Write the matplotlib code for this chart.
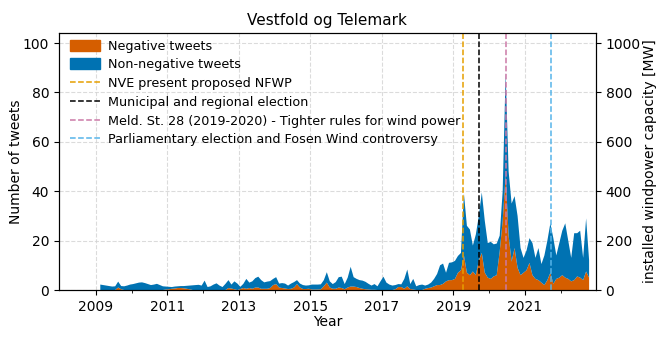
import numpy as np
import matplotlib.pyplot as plt
from matplotlib.patches import Patch
from matplotlib.lines import Line2D

# monthly counts, Feb 2009 - Oct 2022 (one list per year)
total_tweets = {
    2009: [2.2, 2.0, 1.8, 1.6, 1.4, 1.5, 3.4, 1.6, 1.5, 1.8, 2.2],
    2010: [2.4, 2.7, 3.0, 3.1, 2.8, 2.4, 2.0, 2.2, 2.5, 2.0, 1.5, 1.4],
    2011: [1.3, 1.2, 1.4, 1.5, 1.6, 1.6, 1.7, 1.8, 1.9, 2.0, 2.1, 1.8],
    2012: [3.8, 1.2, 1.5, 2.2, 2.7, 1.8, 1.2, 2.5, 4.0, 2.2, 3.5, 2.6],
    2013: [1.3, 2.5, 4.5, 3.0, 3.5, 4.8, 5.4, 4.0, 3.1, 3.4, 3.6, 4.5],
    2014: [5.2, 2.6, 2.8, 2.6, 1.8, 2.6, 3.2, 4.0, 2.6, 2.0, 1.8, 1.9],
    2015: [2.2, 2.2, 2.2, 2.3, 4.0, 7.2, 3.5, 2.4, 3.2, 5.2, 5.4, 2.4],
    2016: [5.0, 9.4, 5.2, 4.5, 4.0, 3.8, 3.3, 2.5, 1.8, 2.4, 1.5, 3.5],
    2017: [5.4, 3.0, 2.2, 1.8, 2.0, 2.4, 2.3, 4.5, 8.3, 2.4, 4.5, 1.5],
    2018: [2.0, 2.2, 1.8, 2.2, 3.0, 4.5, 6.5, 10.0, 10.7, 7.0, 11.0, 11.2],
    2019: [11.8, 13.8, 15.0, 39.0, 26.0, 24.5, 18.0, 22.5, 30.0, 39.5, 28.0, 19.0],
    2020: [19.5, 18.5, 18.8, 22.0, 40.0, 88.0, 48.0, 35.0, 38.0, 30.0, 17.0, 13.0],
    2021: [16.0, 21.0, 19.0, 13.0, 17.0, 10.5, 14.0, 20.0, 27.0, 21.0, 14.0, 19.0],
    2022: [24.0, 27.0, 20.0, 13.0, 23.0, 23.0, 24.0, 13.0, 29.0, 12.0],
}
negative_tweets = {
    2009: [0, 0, 0, 0, 0, 0, 1.0, 0.3, 0, 0, 0],
    2010: [0, 0, 0, 0, 0, 0, 0, 0, 0, 0, 0, 0.2],
    2011: [0.3, 0.5, 0.6, 0.8, 0.8, 0.7, 0.5, 0.3, 0, 0, 0, 0],
    2012: [0, 0, 0, 0, 0, 0, 0, 0, 0.8, 0.6, 0.3, 0],
    2013: [0.4, 0.8, 0.5, 0.8, 0.5, 1.0, 1.0, 0.5, 0.5, 0.5, 0.8, 2.0],
    2014: [2.4, 1.0, 0.8, 0.6, 0.4, 0.5, 1.0, 2.4, 1.0, 0.4, 0.4, 0.5],
    2015: [0.2, 0.2, 0.2, 0.3, 1.5, 3.0, 1.0, 0.5, 0.5, 1.0, 0.8, 0.3],
    2016: [1.0, 1.4, 1.4, 1.2, 0.8, 0.5, 0.3, 0.2, 0.1, 0.1, 0, 0],
    2017: [0, 0, 0, 0, 0.3, 1.2, 1.2, 0.5, 1.5, 0.4, 0.2, 0],
    2018: [0, 0, 0.5, 0.8, 1.0, 1.5, 2.0, 2.0, 2.5, 3.5, 4.0, 4.0],
    2019: [4.5, 7.0, 8.0, 14.0, 7.0, 6.0, 7.5, 6.0, 12.0, 15.0, 7.0, 5.0],
    2020: [4.5, 5.5, 6.0, 15.5, 28.0, 46.5, 22.0, 11.5, 17.0, 9.0, 6.0, 7.0],
    2021: [8.0, 11.0, 6.0, 4.5, 4.0, 3.0, 2.0, 4.0, 7.0, 2.5, 4.5, 5.0],
    2022: [6.0, 5.0, 4.5, 3.5, 4.0, 5.5, 5.0, 4.0, 7.5, 5.0],
}

event_dates = [2019.27, 2019.70, 2020.47, 2021.72]
event_labels = [
    'NVE present proposed NFWP',
    'Municipal and regional election',
    'Meld. St. 28 (2019-2020) - Tighter rules for wind power',
    'Parliamentary election and Fosen Wind controversy',
]
event_colors = ['#E69F00', 'black', '#CC79A7', '#56B4E9']

# decimal year at the middle of each month
x, total, neg = [], [], []
for year in total_tweets:
    first_month = 13 - len(total_tweets[year]) if year == 2009 else 1
    for i, (t, n) in enumerate(zip(total_tweets[year], negative_tweets[year])):
        x.append(year + (first_month + i - 0.5) / 12)
        total.append(t)
        neg.append(n)
x = np.array(x)
total = np.array(total)
neg = np.array(neg)
non_neg = total - neg

fig, ax = plt.subplots(figsize=(6.65, 3.38), dpi=100)
fig.subplots_adjust(left=0.0887, right=0.896, top=0.902, bottom=0.142)

ax.stackplot(x, neg, non_neg, colors=['#D55E00', '#0072B2'], linewidth=0)
for d, c in zip(event_dates, event_colors):
    ax.axvline(d, color=c, linestyle='--', linewidth=1.1)

ax.set_xlim(2007.97, 2022.98)
ax.set_ylim(0, 104)
ax.set_xticks(np.arange(2009, 2022, 2))
ax.set_xticks(np.arange(2010, 2023, 2), minor=True)
ax.set_yticks(np.arange(0, 101, 20))
ax.grid(True, which='major', linestyle='--', color='lightgray', alpha=0.8)
ax.set_axisbelow(True)
ax.set_xlabel('Year', labelpad=1)
ax.set_ylabel('Number of tweets', labelpad=0)
ax.set_title('Vestfold og Telemark', fontsize=11)

ax2 = ax.twinx()
ax2.set_ylim(0, 1040)
ax2.set_yticks(np.arange(0, 1001, 200))
ax2.set_ylabel('installed windpower capacity [MW]', labelpad=2)

handles = [Patch(color='#D55E00', label='Negative tweets'),
           Patch(color='#0072B2', label='Non-negative tweets')]
for lab, c in zip(event_labels, event_colors):
    handles.append(Line2D([], [], color=c, linestyle='--', linewidth=1.1, label=lab))
ax.legend(handles=handles, loc='upper left', frameon=False, fontsize=9.2,
          labelspacing=0.45, borderaxespad=0.1, borderpad=0.4,
          handlelength=2.3, handleheight=0.95, handletextpad=0.65,
          bbox_to_anchor=(0.009, 1.0))

plt.savefig('out.png', dpi=100)
plt.close()
